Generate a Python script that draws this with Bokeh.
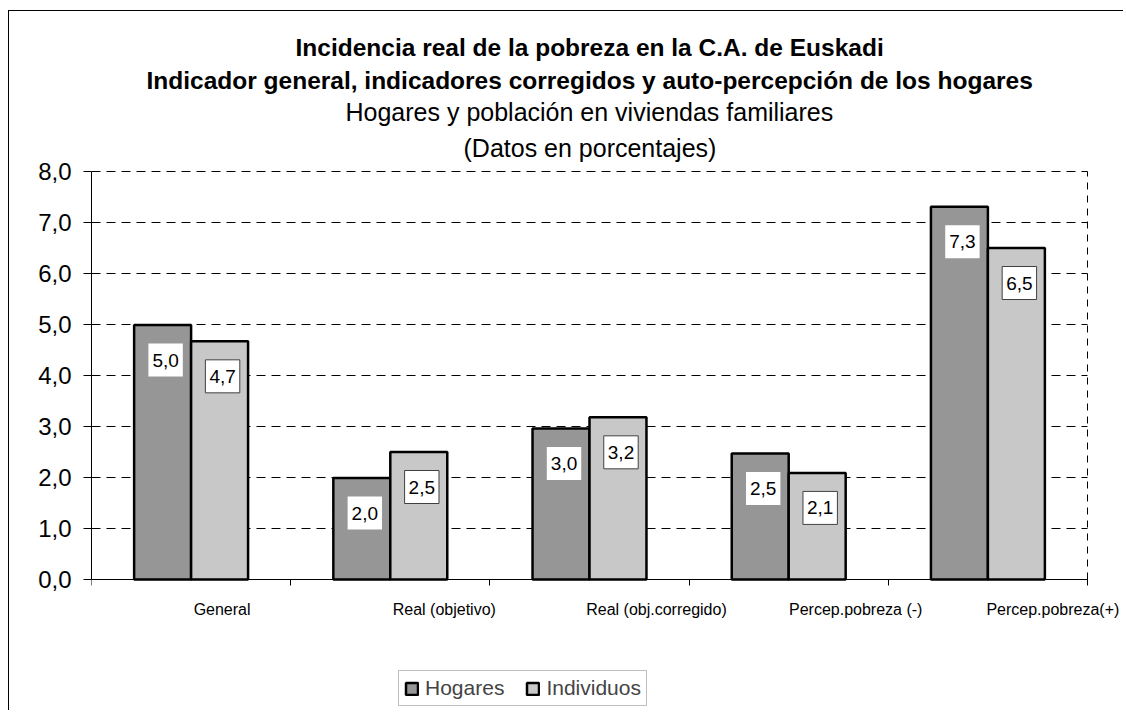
from bokeh.plotting import figure
from bokeh.models import (ColumnDataSource, Range1d, FixedTicker, CustomJSTickFormatter,
                          Title, Legend, LegendItem)
from bokeh.core.properties import value
from bokeh.embed import file_html
from bokeh.resources import INLINE

# ---------------- data ----------------
categories = ["General", "Real (objetivo)", "Real (obj.corregido)",
              "Percep.pobreza (-)", "Percep.pobreza(+)"]
hogares = [4.99, 1.99, 2.96, 2.47, 7.31]
individuos = [4.67, 2.50, 3.18, 2.09, 6.50]
hogares_labels = ["5,0", "2,0", "3,0", "2,5", "7,3"]
individuos_labels = ["4,7", "2,5", "3,2", "2,1", "6,5"]
series_names = ["Hogares", "Individuos"]
title_lines = ["Incidencia real de la pobreza en la C.A. de Euskadi",
               "Indicador general, indicadores corregidos y auto-percepción de los hogares",
               "Hogares y población en viviendas familiares",
               "(Datos en porcentajes)"]
y_ticks = [0, 1, 2, 3, 4, 5, 6, 7, 8]

# ---------------- styling ----------------
FONT = "Liberation Sans"
C_HOG = "#969696"
C_IND = "#c8c8c8"
BAR_W = 0.286
HALF = BAR_W / 2
PX_PER_CAT = 199.2                     # pixel width of one category slot
PX_PER_UNIT = 51.0                     # pixel height of one y unit
BOTTOM_PX = 130                        # space kept under the zero line (labels + legend)
TOP_PX = 3                             # small space above the top grid line
RIGHT_PX = 35                          # room for the last category label
label_dx_px = [31, 54, 67, 67, 65]     # category label shift (labels start at slot centre)
title_w_px = [588, 886, 488, 252]      # rendered title widths, used to centre over the bars

n = len(categories)
y_max = y_ticks[-1]
centers = [i + 0.5 for i in range(n)]
label_pos = [c + dx / PX_PER_CAT for c, dx in zip(centers, label_dx_px)]
src_h = ColumnDataSource(dict(x=[c - HALF for c in centers], top=hogares, lab=hogares_labels))
src_i = ColumnDataSource(dict(x=[c + HALF for c in centers], top=individuos, lab=individuos_labels))

W, H = 1115, 700
p = figure(width=W, height=H, output_backend="svg", toolbar_location=None,
           x_range=Range1d(0, n + RIGHT_PX / PX_PER_CAT),
           y_range=Range1d(-BOTTOM_PX / PX_PER_UNIT, y_max + TOP_PX / PX_PER_UNIT),
           min_border_left=82, min_border_top=160 - TOP_PX, min_border_right=2,
           min_border_bottom=2)
p.styles = {"border-left": "1px solid black", "border-top": "1px solid black",
            "margin-top": "10px", "margin-left": "8px"}
p.background_fill_color = "white"
p.border_fill_color = "white"
p.outline_line_color = None
p.grid.visible = False

# horizontal dashed grid lines and dashed right edge of the plot area
p.segment(x0=[0] * len(y_ticks), y0=y_ticks, x1=[n] * len(y_ticks), y1=y_ticks,
          line_color="black", line_dash="9 6", line_width=1)
p.segment(x0=[n], y0=[0], x1=[n], y1=[y_max], line_color="black",
          line_dash="7 6", line_width=1)

# y axis
p.yaxis.ticker = FixedTicker(ticks=y_ticks)
p.yaxis.bounds = (0, y_max)
p.yaxis.formatter = CustomJSTickFormatter(code="return tick.toFixed(1).replace('.', ',');")
p.yaxis.major_label_text_font = FONT
p.yaxis.major_label_text_font_size = "24px"
p.yaxis.major_label_text_color = "black"
p.yaxis.major_tick_out = 8
p.yaxis.major_tick_in = 0
p.yaxis.minor_tick_line_color = None
p.yaxis.axis_line_color = "black"
p.yaxis.major_tick_line_color = "black"
p.yaxis.major_label_standoff = 12

# x axis at zero: tick marks at slot boundaries (minor), category names as labels (major)
p.xaxis.fixed_location = 0
p.xaxis.bounds = (0, n)
p.xaxis.ticker = FixedTicker(ticks=label_pos, minor_ticks=list(range(n + 1)))
p.xaxis.formatter = CustomJSTickFormatter(args=dict(names=categories),
                                          code="return names[index];")
p.xaxis.major_label_text_font = FONT
p.xaxis.major_label_text_font_size = "16px"
p.xaxis.major_label_text_color = "black"
p.xaxis.major_label_standoff = 15
p.xaxis.major_tick_line_color = None
p.xaxis.major_tick_out = 0
p.xaxis.major_tick_in = 0
p.xaxis.minor_tick_line_color = "black"
p.xaxis.minor_tick_out = 6
p.xaxis.minor_tick_in = 0
p.xaxis.axis_line_color = "black"

# bars
r_h = p.vbar(x="x", top="top", width=BAR_W, bottom=0, source=src_h,
             fill_color=C_HOG, line_color="black", line_width=2.5)
r_i = p.vbar(x="x", top="top", width=BAR_W, bottom=0, source=src_i,
             fill_color=C_IND, line_color="black", line_width=2.5)

# value labels (boxes)
p.text(x="x", y="top", text="lab", source=src_h, text_font=value(FONT),
       text_font_size="19px", text_align="center", text_baseline="middle",
       text_color="black", x_offset=3, y_offset=35,
       background_fill_color="white", border_line_color=None, padding=(4, 10))
p.text(x="x", y="top", text="lab", source=src_i, text_font=value(FONT),
       text_font_size="19px", text_align="center", text_baseline="middle",
       text_color="black", x_offset=3, y_offset=35,
       background_fill_color="white", border_line_color="#404040", border_line_width=1,
       padding=(4, 10))

# titles (added bottom-up: later ones sit further from the plot)
styles_t = ["bold", "bold", "normal", "normal"]
sizes_t = ["24.5px", "24.5px", "25px", "25px"]
standoffs = [3, 4, 0, 13]
bar_area_mid = n * PX_PER_CAT / 2
for t, st, sz, so, tw in reversed(list(zip(title_lines, styles_t, sizes_t, standoffs, title_w_px))):
    p.add_layout(Title(text=t, align="left", text_font=FONT, text_font_size=sz,
                       text_font_style=st, text_color="black", standoff=so,
                       offset=bar_area_mid - tw / 2), "above")

# legend
legend = Legend(items=[LegendItem(label=series_names[0], renderers=[r_h]),
                       LegendItem(label=series_names[1], renderers=[r_i])],
                orientation="horizontal", location=(307, 3),
                label_text_font=FONT, label_text_font_size="21px",
                glyph_width=15, glyph_height=15, label_standoff=6, spacing=21,
                padding=5, margin=0, label_height=20,
                border_line_color="#808080", border_line_width=1,
                background_fill_color="white", background_fill_alpha=1)
p.add_layout(legend, "center")

open("out.html", "w").write(file_html(p, INLINE))
